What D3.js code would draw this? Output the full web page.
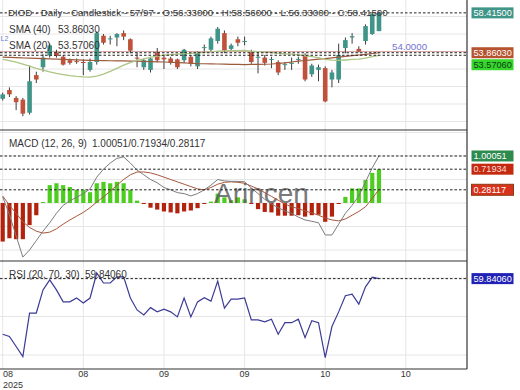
<!DOCTYPE html>
<html>
<head>
<meta charset="utf-8">
<title>DIOD Daily</title>
<script src="https://cdn.jsdelivr.net/npm/d3@7/dist/d3.min.js"></script>
<style>
  body { margin: 0; background: #fff; }
  #chart svg { display: block; font-family: "Liberation Sans", Arial, sans-serif; }
</style>
</head>
<body>
<div id="chart"></div>
<script>
// ---- values (57 daily bars) ----
const dateTicks = [0, 12, 24, 36, 48, 60];
const dateLabels = ["08", "08", "09", "09", "10", "10"];
const yearLabel = "2025";
const priceTicks = [44, 46, 48, 50, 52, 54, 56, 58];
const macdTicks = [-1, -0.5, 0, 0.5, 1, 1.5];
const rsiTicks = [40, 50, 60];

const opens = [48.6,49.6,48.7,48.5,47.0,51.3,52.2,53.55,53.9,53.4,53.0,52.9,52.8,51.9,52.8,55.8,55.4,55.6,56.1,55.4,
  53.3,52.2,51.9,53.9,53.3,53.2,53.1,53.0,53.4,52.3,54.4,54.2,55.2,56.1,54.3,55.4,55.1,53.9,53.3,53.3,
  53.1,52.8,52.5,52.6,53.1,53.6,51.4,51.9,52.1,50.8,50.8,54.4,55.6,54.3,55.2,56.0,56.33];
const highs = [49.3,49.9,48.9,48.7,52.4,51.7,53.7,54.9,54.2,53.6,53.2,53.2,53.1,53.2,56.3,56.0,55.8,56.1,56.4,55.5,
  53.9,53.2,53.4,54.4,53.5,53.4,53.2,54.3,53.6,54.0,54.8,55.7,56.8,56.4,54.9,55.7,55.7,54.2,53.9,53.6,
  53.4,53.0,52.8,53.3,53.4,53.8,52.6,52.5,52.3,51.9,54.9,55.6,56.1,54.6,57.1,58.5,58.56];
const lows = [48.4,48.8,47.3,46.6,46.8,50.4,51.7,53.3,53.3,52.4,52.5,52.6,51.3,51.7,52.5,54.8,54.8,54.6,55.3,53.8,
  52.2,51.9,51.6,52.8,52.0,52.5,52.0,52.7,52.3,52.0,54.0,54.0,54.9,53.8,54.1,54.6,54.7,52.6,51.5,52.4,
  52.1,51.3,51.9,51.9,52.6,50.6,51.1,50.6,48.2,49.9,50.4,53.8,54.9,53.9,54.8,55.9,56.33];
const closes = [49.1,49.1,48.2,46.9,50.6,50.8,53.3,54.7,53.5,52.5,52.7,52.85,52.7,52.8,56.1,55.0,55.5,56.0,55.7,54.1,
  53.2,53.0,53.2,53.0,53.1,52.7,52.2,54.2,52.6,53.8,54.5,55.5,56.6,54.1,54.7,55.0,55.2,52.8,53.4,52.7,
  53.15,51.6,52.55,52.7,53.15,50.8,52.4,52.2,48.3,51.6,53.6,55.3,55.75,54.0,56.9,58.3,58.415];

const sma40 = [53.36,53.33,53.31,53.27,53.25,53.22,53.19,53.15,53.12,53.1,53.07,53.04,53.02,52.99,52.97,52.96,52.94,52.93,52.92,52.91,
  52.89,52.87,52.85,52.82,52.8,52.77,52.73,52.69,52.66,52.62,52.6,52.58,52.57,52.55,52.53,52.52,52.51,52.52,52.53,52.54,
  52.57,52.63,52.71,52.8,52.9,52.97,53.05,53.13,53.19,53.27,53.35,53.44,53.52,53.6,53.68,53.77,53.8603];
const sma20 = [53.1,52.97,52.78,52.55,52.32,52.06,51.86,51.66,51.49,51.36,51.24,51.15,51.1,51.08,51.18,51.42,51.74,52.08,52.44,52.74,
  52.98,53.17,53.33,53.47,53.58,53.64,53.7,53.76,53.79,53.84,53.9,53.96,54.05,54.08,54.11,54.1,54.12,54.04,53.99,53.93,
  53.88,53.8,53.74,53.69,53.63,53.5,53.41,53.29,53.1,53.02,52.98,53.03,53.09,53.13,53.24,53.41,53.5706];

const macdLine = [0.13,-0.25,-0.7,-1.15,-1.0,-0.8,-0.6,-0.42,-0.22,-0.05,0.05,0.12,0.2,0.3,0.55,0.72,0.85,0.95,0.98,0.85,
  0.7,0.6,0.5,0.43,0.33,0.28,0.22,0.2,0.15,0.2,0.28,0.38,0.5,0.47,0.46,0.46,0.45,0.32,0.2,0.08,
  -0.02,-0.1,-0.17,-0.22,-0.3,-0.36,-0.39,-0.42,-0.68,-0.68,-0.45,-0.22,-0.05,0.15,0.45,0.75,1.00051];
const signalLine = [0.15,-0.05,-0.22,-0.4,-0.52,-0.6,-0.64,-0.62,-0.55,-0.45,-0.36,-0.28,-0.2,-0.1,0.02,0.13,0.25,0.38,0.5,0.6,
  0.66,0.66,0.64,0.6,0.55,0.5,0.45,0.4,0.35,0.3,0.28,0.33,0.4,0.44,0.45,0.44,0.42,0.36,0.3,0.22,
  0.14,0.06,-0.02,-0.08,-0.12,-0.17,-0.21,-0.26,-0.32,-0.36,-0.38,-0.34,-0.26,-0.18,-0.08,0.1,0.28117];
const histogram = [-0.82,-0.75,-0.77,-0.77,-0.47,-0.26,0.02,0.38,0.42,0.38,0.34,0.28,0.28,0.23,0.42,0.45,0.42,0.45,0.42,0.28,
  0.05,-0.02,-0.1,-0.14,-0.18,-0.2,-0.22,-0.18,-0.16,-0.11,-0.01,0.03,0.2,0.12,0.06,0.12,0.08,-0.02,-0.13,-0.19,
  -0.2,-0.27,-0.27,-0.27,-0.26,-0.29,-0.26,-0.25,-0.4,-0.29,-0.02,0.13,0.31,0.31,0.49,0.64,0.71934];

const rsi = [45.4,44.8,42.2,39.6,50.9,50.9,56.9,59.5,56.9,53.8,53.8,54.8,53.5,54.8,61.3,58.7,58.7,60.3,60.3,54.8,
  51.7,50.4,52.3,51.2,51.9,51.2,49.9,54.8,49.9,53.8,54.9,54.0,59.2,52.2,54.5,54.5,54.8,49.1,49.1,48.6,
  49.3,45.4,48.4,48.4,49.3,44.5,48.9,48.4,39.3,47.4,51.2,55.4,55.8,53.2,57.7,60.2,59.8406];

const levelLine = 54;       // user drawn horizontal line
const barCount = 57, barTotal = 97;

// ---- layout ----
const W = 520, H = 390;
const plotRight = 467;
const bands = { price: [0, 130], macd: [130, 261], rsi: [261, 369] };
const fmt5 = v => v === 0 ? "0" : v.toFixed(5);
const last = a => a[a.length - 1];

const x = d3.scaleLinear().domain([-0.4, 69.1]).range([0, plotRight]);
const yPrice = d3.scaleLinear().domain([46, 56]).range([121.5, 34]);
const yMacd = d3.scaleLinear().domain([-1, 1]).range([250, 156]);
const yRsi = d3.scaleLinear().domain([40, 50]).range([355, 316.5]);

const svg = d3.select("#chart")
    .append("svg")
    .attr("width", W)
    .attr("height", H);

svg.append("rect").attr("width", W).attr("height", H).attr("fill", "#fff");

// clip paths, one per panel (plot area and axis labels)
const defs = svg.append("defs");
Object.entries(bands).forEach(([k, b]) => {
    defs.append("clipPath").attr("id", "clip-" + k)
        .append("rect").attr("x", 0).attr("y", b[0]).attr("width", plotRight).attr("height", b[1] - b[0]);
    defs.append("clipPath").attr("id", "clipax-" + k)
        .append("rect").attr("x", plotRight + 1).attr("y", b[0] - 2).attr("width", W - plotRight).attr("height", b[1] - b[0] + 2);
});

// ---- grid ----
const grid = svg.append("g").attr("stroke", "#e6e6e6").attr("stroke-width", 1);
grid.selectAll("line.v")
    .data(dateTicks)
    .enter()
    .append("line")
    .attr("x1", d => x(d)).attr("x2", d => x(d))
    .attr("y1", 0).attr("y2", bands.rsi[1]);

function hGrid(ticks, scale, band) {
    grid.append("g").attr("clip-path", `url(#clip-${band})`)
        .selectAll("line")
        .data(ticks)
        .enter()
        .append("line")
        .attr("x1", 0).attr("x2", plotRight)
        .attr("y1", d => scale(d)).attr("y2", d => scale(d));
}
hGrid(priceTicks, yPrice, "price");
hGrid(macdTicks, yMacd, "macd");
hGrid(rsiTicks, yRsi, "rsi");

// ---- price panel ----
const pricePanel = svg.append("g").attr("clip-path", "url(#clip-price)");

pricePanel.append("line")
    .attr("x1", 0).attr("x2", plotRight)
    .attr("y1", yPrice(levelLine)).attr("y2", yPrice(levelLine))
    .attr("stroke", "#d7a9a4").attr("stroke-width", 1);

const candles = pricePanel.selectAll("g.candle")
    .data(d3.range(opens.length))
    .enter()
    .append("g")
    .attr("class", "candle");

candles.append("line")
    .attr("x1", i => x(i)).attr("x2", i => x(i))
    .attr("y1", i => yPrice(highs[i])).attr("y2", i => yPrice(lows[i]))
    .attr("stroke", "#3c3c3c").attr("stroke-width", 1);

candles.append("rect")
    .attr("x", i => x(i) - 2.3)
    .attr("width", 4.6)
    .attr("y", i => yPrice(Math.max(opens[i], closes[i])))
    .attr("height", i => Math.max(1, Math.abs(yPrice(opens[i]) - yPrice(closes[i]))))
    .attr("fill", i => closes[i] >= opens[i] ? "#3f9587" : "#c0513a");

const line = scale => d3.line().x((d, i) => x(i)).y(d => scale(d));

pricePanel.append("path").datum(sma40)
    .attr("d", line(yPrice)).attr("fill", "none")
    .attr("stroke", "#9c5a3c").attr("stroke-width", 1.2);
pricePanel.append("path").datum(sma20)
    .attr("d", line(yPrice)).attr("fill", "none")
    .attr("stroke", "#adc585").attr("stroke-width", 1.3);

// ---- macd panel ----
const macdPanel = svg.append("g").attr("clip-path", "url(#clip-macd)");

macdPanel.selectAll("rect.hist")
    .data(histogram)
    .enter()
    .append("rect")
    .attr("class", "hist")
    .attr("x", (d, i) => x(i) - 2.1)
    .attr("width", 4.2)
    .attr("y", d => yMacd(Math.max(0, d)))
    .attr("height", d => Math.max(1, Math.abs(yMacd(d) - yMacd(0))))
    .attr("fill", d => d >= 0 ? "#4ccd1f" : "#b3220c");

macdPanel.append("text")
    .attr("x", 214).attr("y", 203)
    .attr("font-size", 28)
    .attr("fill", "#5a5a5a").attr("opacity", 0.8)
    .text("Arincen");

macdPanel.append("path").datum(signalLine)
    .attr("d", line(yMacd)).attr("fill", "none")
    .attr("stroke", "#a8573c").attr("stroke-width", 1);
macdPanel.append("path").datum(macdLine)
    .attr("d", line(yMacd)).attr("fill", "none")
    .attr("stroke", "#7c7c7c").attr("stroke-width", 1);

// ---- rsi panel ----
const rsiPanel = svg.append("g").attr("clip-path", "url(#clip-rsi)");
rsiPanel.append("path").datum(rsi)
    .attr("d", line(yRsi)).attr("fill", "none")
    .attr("stroke", "#3b3b96").attr("stroke-width", 1.2);

// ---- dashed value lines ----
const dashed = [
    [yPrice, last(closes)], [yPrice, last(sma40)], [yPrice, last(sma20)],
    [yMacd, last(macdLine)], [yMacd, last(histogram)], [yMacd, last(signalLine)],
    [yRsi, last(rsi)]
];
svg.append("g").selectAll("line")
    .data(dashed)
    .enter()
    .append("line")
    .attr("x1", 0).attr("x2", plotRight)
    .attr("y1", d => d[0](d[1])).attr("y2", d => d[0](d[1]))
    .attr("stroke", "#222").attr("stroke-width", 1)
    .attr("stroke-dasharray", "2.5,2");

// ---- frame ----
const frame = svg.append("g").attr("stroke", "#333").attr("stroke-width", 1.2);
[bands.price[1], bands.macd[1], bands.rsi[1]].forEach(yy => {
    frame.append("line").attr("x1", 0).attr("x2", plotRight).attr("y1", yy).attr("y2", yy);
});
frame.append("line").attr("x1", plotRight).attr("x2", plotRight).attr("y1", 0).attr("y2", bands.rsi[1]);

// value boxes on the right axis; stacks them so they don't collide
function placeBoxes(items) {
    let prevBottom = -Infinity;
    items.forEach(it => {
        const h = 11;
        let cy = it.y;
        if (cy - h / 2 < prevBottom + 1) cy = prevBottom + 1 + h / 2;
        prevBottom = cy + h / 2;
        it.cy = cy;
        it.top = cy - h / 2;
        it.bottom = cy + h / 2;
    });
    return items;
}

function drawBoxes(items) {
    items.forEach(it => {
        const g = svg.append("g");
        g.append("rect")
            .attr("x", plotRight + 4.5).attr("y", it.top)
            .attr("width", 42).attr("height", it.bottom - it.top)
            .attr("fill", it.fill)
            .attr("stroke", it.stroke || "none").attr("stroke-width", 1);
        g.append("text")
            .attr("x", plotRight + 6.5).attr("y", it.cy).attr("dy", "0.35em")
            .style("font-size", "9.2px")
            .attr("fill", it.color)
            .text(fmt5(it.v));
    });
}

// ---- right axes (labels hidden under a value box or outside the panel are left out) ----
function rightAxis(scale, ticks, band, boxes) {
    const b = bands[band];
    const shown = ticks
        .filter(t => scale(t) > b[0] && scale(t) < b[1])
        .filter(t => !boxes.some(bx => scale(t) > bx.top - 4 && scale(t) < bx.bottom + 4));
    const g = svg.append("g")
        .attr("transform", `translate(${plotRight + 3},0)`)
        .attr("clip-path", `url(#clipax-${band})`)
        .call(d3.axisRight(scale).tickValues(shown).tickSize(0).tickPadding(4).tickFormat(fmt5));
    g.select(".domain").remove();
    g.attr("font-family", null).attr("font-size", null);
    g.selectAll("text").attr("fill", "#333").style("font-size", "9.2px");
}

const priceBoxes = placeBoxes([
    { y: yPrice(last(closes)), v: last(closes), fill: "#3f9587", color: "#fff" },
    { y: yPrice(last(sma40)), v: last(sma40), fill: "#b5532f", color: "#fff" },
    { y: yPrice(last(sma20)), v: last(sma20), fill: "#36d62a", color: "#0d3b1a" }
]);
const macdBoxes = placeBoxes([
    { y: yMacd(last(macdLine)), v: last(macdLine), fill: "#2e8b4f", color: "#fff" },
    { y: yMacd(last(histogram)), v: last(histogram), fill: "#c42a10", color: "#fdd" },
    { y: yMacd(last(signalLine)), v: last(signalLine), fill: "#d8321c", color: "#fff", stroke: "#8b3b12" }
]);
const rsiBoxes = placeBoxes([
    { y: yRsi(last(rsi)), v: last(rsi), fill: "#1f22b4", color: "#fff" }
]);

rightAxis(yPrice, priceTicks, "price", priceBoxes);
rightAxis(yMacd, macdTicks, "macd", macdBoxes);
rightAxis(yRsi, rsiTicks, "rsi", rsiBoxes);
drawBoxes(priceBoxes);
drawBoxes(macdBoxes);
drawBoxes(rsiBoxes);

// annotation of the level line
svg.append("text")
    .attr("x", 392).attr("y", yPrice(levelLine) - 2)
    .style("font-size", "9.7px").attr("fill", "#7474d2")
    .text(levelLine.toFixed(4));

// ---- date axis ----
const dateAxis = svg.append("g").style("font-size", "9px").attr("fill", "#333");
dateAxis.selectAll("text")
    .data(dateTicks)
    .enter()
    .append("text")
    .attr("x", (d, i) => i === 0 ? 3 : x(d))
    .attr("y", 377)
    .attr("text-anchor", (d, i) => i === 0 ? "start" : "middle")
    .text((d, i) => dateLabels[i]);
dateAxis.append("text").attr("x", 3).attr("y", 388).text(yearLabel);

// ---- header and legends ----
const txt = svg.append("g").attr("fill", "#333");
txt.append("text")
    .attr("x", 8).attr("y", 16)
    .style("font-size", "9.7px")
    .text(`DIOD - Daily - Candlestick - ${barCount}/${barTotal} - O:${fmt5(last(opens))} - H:${fmt5(last(highs))} - L:${fmt5(last(lows))} - C:${fmt5(last(closes))}`);

txt.append("text").attr("x", 0.5).attr("y", 41).style("font-size", "7px").attr("fill", "#6b7fd0").text("L2");

const legends = [
    { y: 33, label: "SMA (40)", lx: 58, value: fmt5(last(sma40)) },
    { y: 49, label: "SMA (20)", lx: 58, value: fmt5(last(sma20)) },
    { y: 147, label: "MACD (12, 26, 9)", lx: 92,
      value: [last(macdLine), last(histogram), last(signalLine)].map(fmt5).join("/") },
    { y: 278, label: "RSI (20, 70, 30)", lx: 85, value: fmt5(last(rsi)) }
];
legends.forEach(l => {
    txt.append("text").attr("x", 9).attr("y", l.y).style("font-size", "10px").text(l.label);
    txt.append("text").attr("x", l.lx).attr("y", l.y).style("font-size", "10px").text(l.value);
});
</script>
</body>
</html>
